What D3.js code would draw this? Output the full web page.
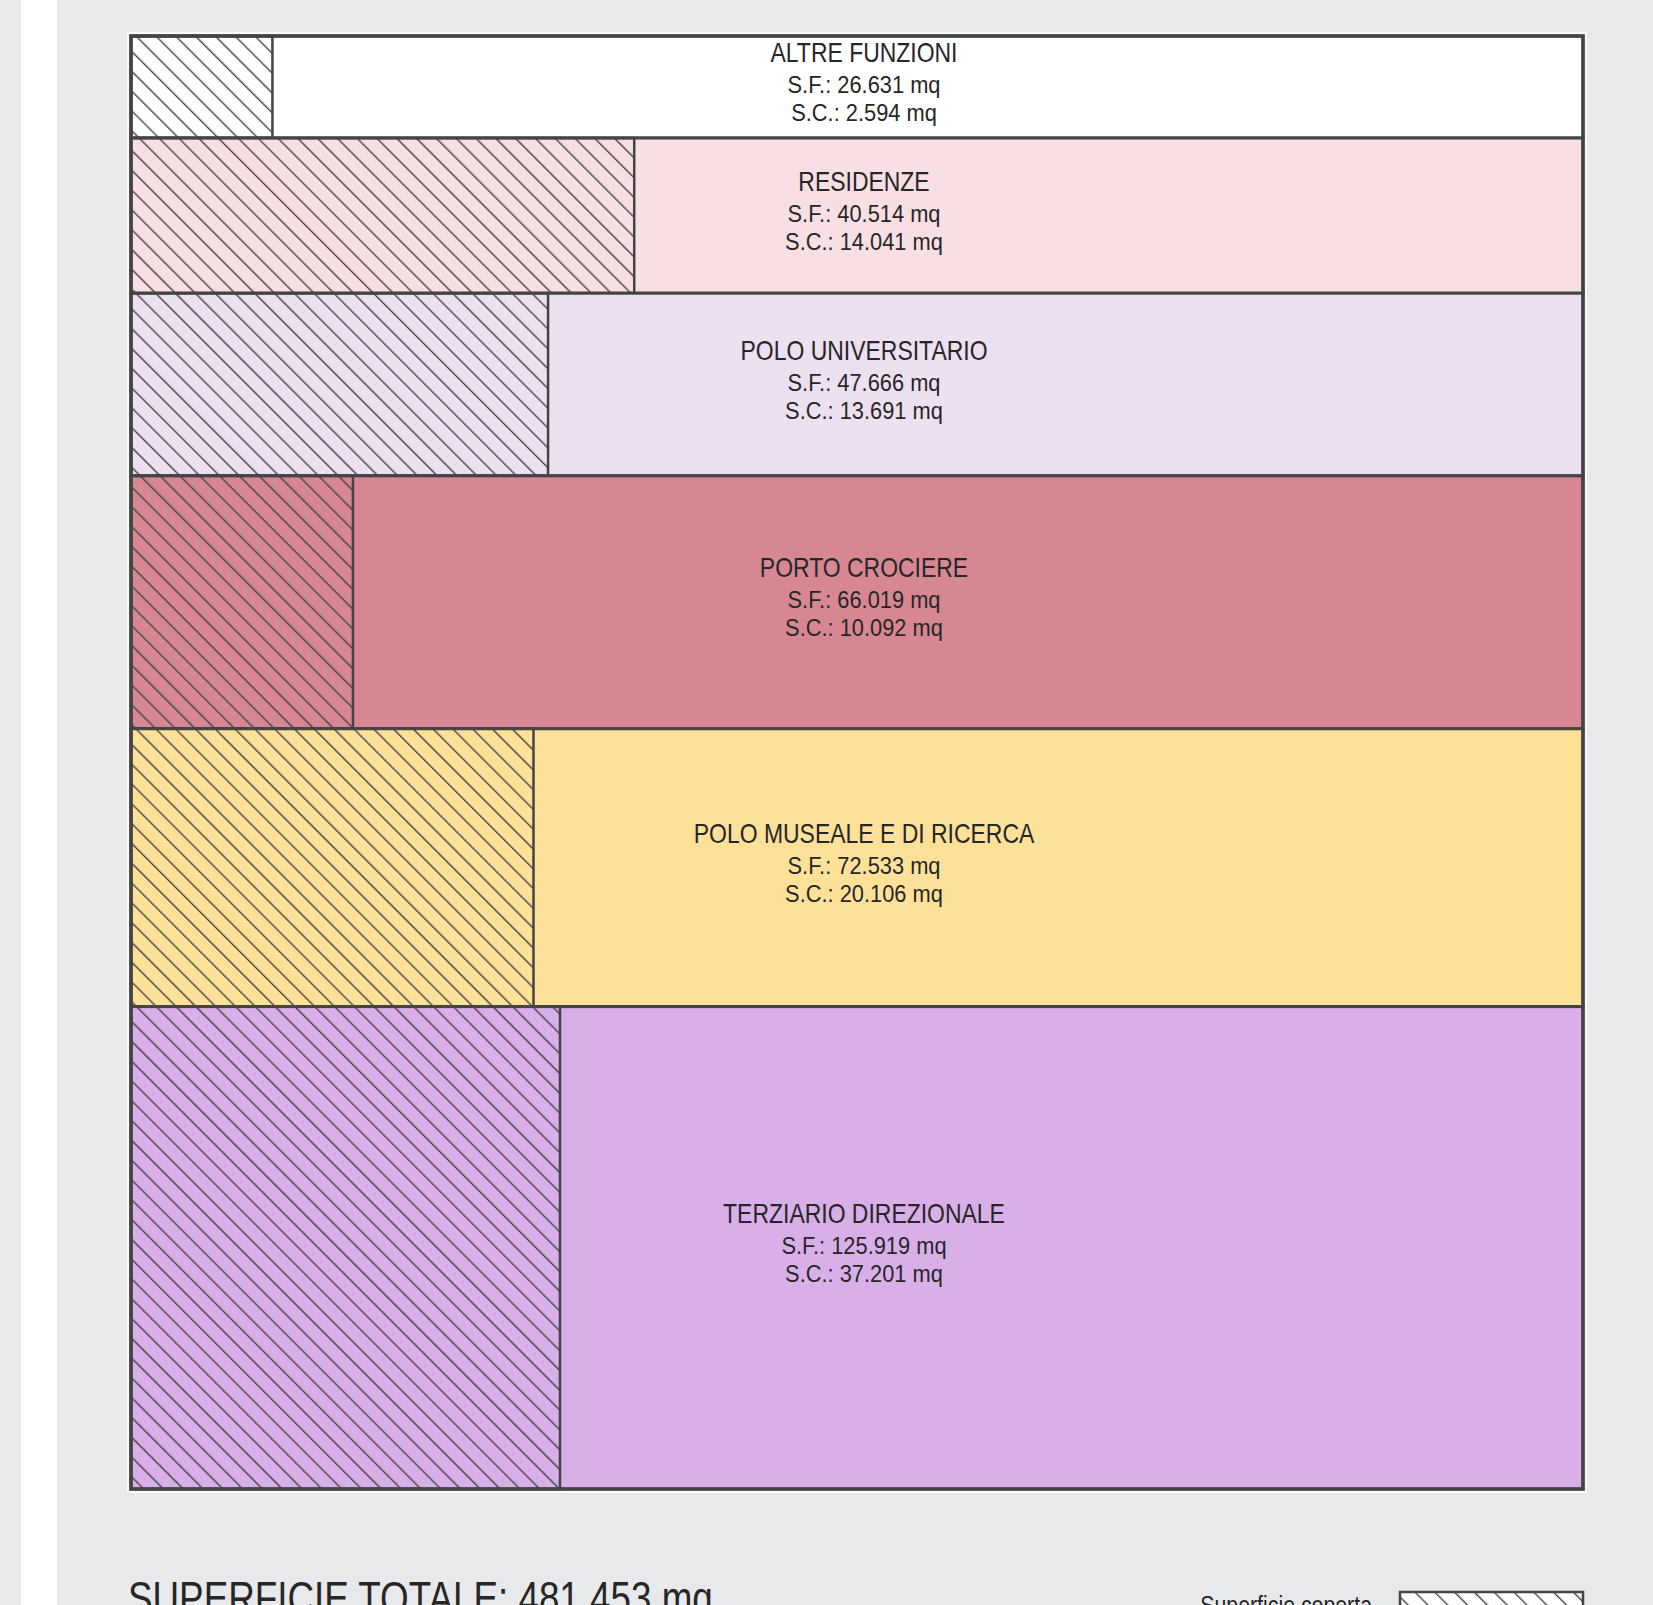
<!DOCTYPE html>
<html>
<head>
<meta charset="utf-8">
<script src="https://cdn.jsdelivr.net/npm/d3@7"></script>
<style>
    html, body { margin: 0; padding: 0; background: #e8e9eb; }
    svg { display: block; }
    text { font-family: "Liberation Sans", Arial, sans-serif; fill: #262626; }
</style>
</head>
<body>
<div id="chart"></div>
<script>
var categories = ['ALTRE FUNZIONI', 'RESIDENZE', 'POLO UNIVERSITARIO', 'PORTO CROCIERE', 'POLO MUSEALE E DI RICERCA', 'TERZIARIO DIREZIONALE'];
var superficieFondiaria = [26631, 40514, 47666, 66019, 72533, 125919];
var superficieCoperta = [2594, 14041, 13691, 10092, 20106, 37201];
var colors = ['#ffffff', '#f8dfe3', '#ede0f0', '#d68792', '#fde199', '#d8afe9'];
var totalLabel = 'SUPERFICIE TOTALE: 481.453 mq';
var legendLabel = 'Superficie coperta';

var width = 1653;
var height = 1605;
var box = {left: 131, right: 1583, top: 36, bottom: 1489};
var lineColor = '#444444';

function fmt(v) {
    return d3.format(',')(v).replace(/,/g, '.') + ' mq';
}

var svg = d3.select('#chart').append('svg')
    .attr('width', width)
    .attr('height', height);

svg.append('rect')
    .attr('width', width)
    .attr('height', height)
    .attr('fill', '#e8e9eb');

// white strip on the left edge of the sheet
svg.append('rect')
    .attr('x', 21)
    .attr('y', 0)
    .attr('width', 36)
    .attr('height', height)
    .attr('fill', '#ffffff');

var defs = svg.append('defs');
var hatch = defs.append('pattern')
    .attr('id', 'hatch')
    .attr('patternUnits', 'userSpaceOnUse')
    .attr('width', 14)
    .attr('height', 14)
    .attr('patternTransform', 'rotate(-45)');
hatch.append('line')
    .attr('x1', 0).attr('y1', 0)
    .attr('x2', 0).attr('y2', 14)
    .attr('stroke', lineColor)
    .attr('stroke-width', 2.8);

// rows stacked by S.F., hatched part is S.C. / S.F. of the row width
var rows = categories.map(function(name, i) {
    return {
        name: name,
        sf: superficieFondiaria[i],
        sc: superficieCoperta[i],
        color: colors[i]
    };
});
var offset = 0;
rows.forEach(function(d) {
    d.start = offset;
    offset += d.sf;
    d.end = offset;
});

var x = d3.scaleLinear().domain([0, 1]).range([box.left, box.right]);
var y = d3.scaleLinear().domain([0, offset]).range([box.top, box.bottom]);

// light halo around the frame
svg.append('rect')
    .attr('x', box.left - 4)
    .attr('y', box.top - 4)
    .attr('width', box.right - box.left + 8)
    .attr('height', box.bottom - box.top + 8)
    .attr('fill', '#ffffff')
    .attr('opacity', 0.8);

var row = svg.append('g')
    .attr('class', 'rows')
    .selectAll('g')
    .data(rows)
    .enter().append('g');

row.append('rect')
    .attr('x', x(0))
    .attr('y', function(d) { return y(d.start); })
    .attr('width', x(1) - x(0))
    .attr('height', function(d) { return y(d.end) - y(d.start); })
    .attr('fill', function(d) { return d.color; });

row.append('rect')
    .attr('x', x(0))
    .attr('y', function(d) { return y(d.start); })
    .attr('width', function(d) { return x(d.sc / d.sf) - x(0); })
    .attr('height', function(d) { return y(d.end) - y(d.start); })
    .attr('fill', 'url(#hatch)')
    .attr('stroke', lineColor)
    .attr('stroke-width', 2.5);

row.append('rect')
    .attr('x', x(0))
    .attr('y', function(d) { return y(d.start); })
    .attr('width', x(1) - x(0))
    .attr('height', function(d) { return y(d.end) - y(d.start); })
    .attr('fill', 'none')
    .attr('stroke', lineColor)
    .attr('stroke-width', 3);

svg.append('rect')
    .attr('x', x(0))
    .attr('y', y(0))
    .attr('width', x(1) - x(0))
    .attr('height', y(offset) - y(0))
    .attr('fill', 'none')
    .attr('stroke', lineColor)
    .attr('stroke-width', 3.5);

var label = row.append('g')
    .attr('transform', function(d) {
        return 'translate(' + ((x(0) + x(1)) / 2 + 7) + ',' + ((y(d.start) + y(d.end)) / 2 + 6) + ')';
    });

label.append('text')
    .attr('text-anchor', 'middle')
    .attr('transform', 'translate(0,-31) scale(0.82,1)')
    .attr('font-size', 28)
    .text(function(d) { return d.name; });

label.append('text')
    .attr('text-anchor', 'middle')
    .attr('transform', 'scale(0.95,1)')
    .attr('font-size', 23)
    .text(function(d) { return 'S.F.: ' + fmt(d.sf); });

label.append('text')
    .attr('text-anchor', 'middle')
    .attr('transform', 'translate(0,28) scale(0.95,1)')
    .attr('font-size', 23)
    .text(function(d) { return 'S.C.: ' + fmt(d.sc); });

// footer
svg.append('text')
    .attr('transform', 'translate(128,1614) scale(0.8,1)')
    .attr('font-size', 46)
    .text(totalLabel);

svg.append('text')
    .attr('transform', 'translate(1372,1614) scale(0.82,1)')
    .attr('text-anchor', 'end')
    .attr('font-size', 26)
    .text(legendLabel);

svg.append('rect')
    .attr('x', 1400)
    .attr('y', 1592)
    .attr('width', 183)
    .attr('height', 30)
    .attr('fill', '#ffffff');

svg.append('rect')
    .attr('x', 1400)
    .attr('y', 1592)
    .attr('width', 183)
    .attr('height', 30)
    .attr('fill', 'url(#hatch)')
    .attr('stroke', lineColor)
    .attr('stroke-width', 2.5);
</script>
</body>
</html>
